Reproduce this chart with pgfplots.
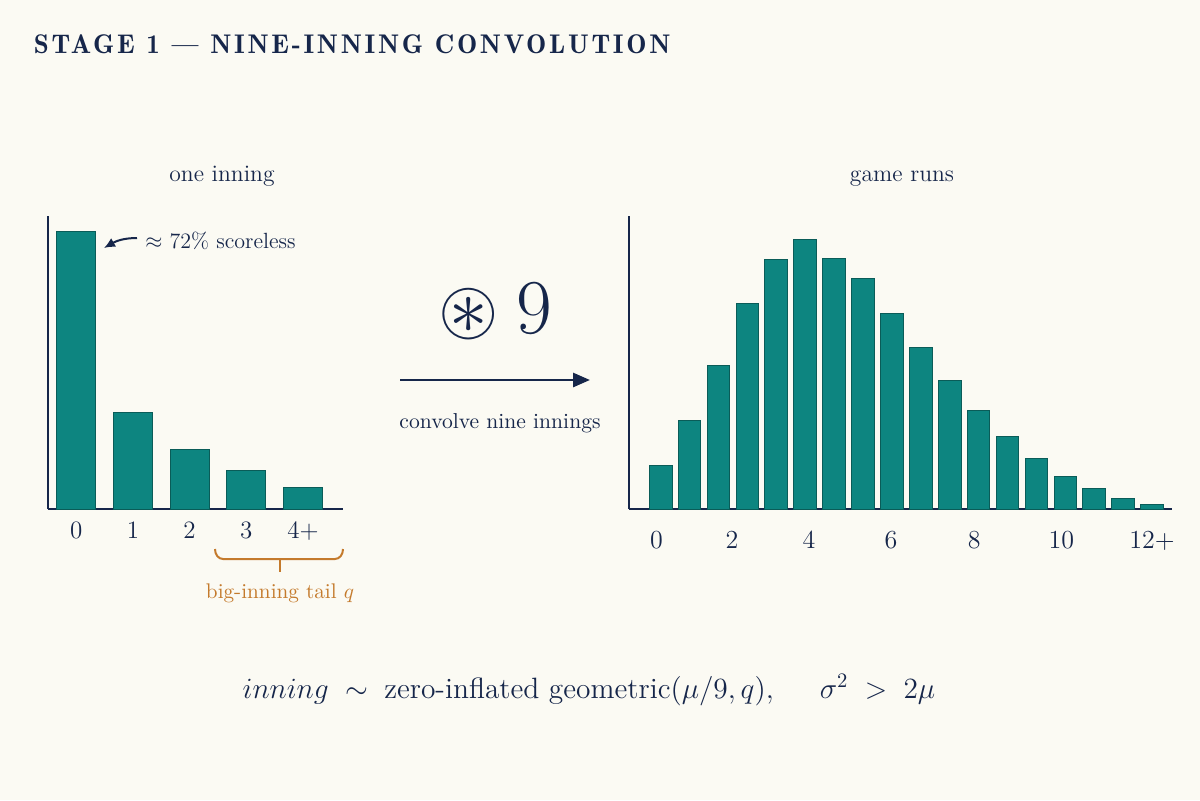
\documentclass[border=0pt]{standalone}
\usepackage{fix-cm}
\usepackage{amsmath,amssymb}
\usepackage{fontspec}
\usepackage{pgfplots}
\pgfplotsset{compat=1.18}
\usetikzlibrary{arrows.meta}
\newfontfamily\titlefont{lmromandemi10-regular}[Extension=.otf, LetterSpace=10]
\definecolor{bgc}{HTML}{FBFAF3}
\definecolor{navy}{HTML}{16264A}
\definecolor{teal1}{HTML}{0D8580}
\definecolor{tealedge}{HTML}{0A5C58}
\definecolor{orng}{HTML}{C47A2C}
\begin{document}
\begin{tikzpicture}
\begin{scope}[x=0.5pt,y=0.5pt]
\fill[bgc] (0,0) rectangle (1200,800);
% title
\node[anchor=base west, text=navy, inner sep=0,
  font=\titlefont\fontsize{13.5}{16}\selectfont]
  at (33.5,746) {STAGE 1 — NINE-INNING CONVOLUTION};
% panel titles
\node[anchor=base, text=navy, inner sep=0, font=\fontsize{11.8}{14}\selectfont] at (222,618) {one inning};
\node[anchor=base, text=navy, inner sep=0, font=\fontsize{11.8}{14}\selectfont] at (902,618) {game runs};
\end{scope}

% left chart
\begin{axis}[
  at={(24.15pt,145.5pt)}, anchor=south west,
  scale only axis, width=147.35pt, height=146.75pt,
  xmin=-0.492, xmax=4.705, ymin=0, ymax=293.5,
  axis x line=bottom, axis y line=left,
  axis line style={draw=navy, line width=1pt, -},
  ytick=\empty, xtick={0,1,2,3,4}, xticklabels={0,1,2,3,4+},
  major tick length=0pt,
  xticklabel style={font=\fontsize{12.5}{14}\selectfont, text=navy, yshift=-3pt},
  ybar, bar width=0.688,
  clip=false,
]
\addplot[fill=teal1, draw=tealedge, line width=0.5pt] coordinates {(0,278) (1,97) (2,60) (3,39) (4,22)};
\end{axis}

% right chart
\begin{axis}[
  at={(314.5pt,145.5pt)}, anchor=south west,
  scale only axis, width=271.5pt, height=146.75pt,
  xmin=-1.097, xmax=17.69, ymin=0, ymax=293.5,
  axis x line=bottom, axis y line=left,
  axis line style={draw=navy, line width=1pt, -},
  ytick=\empty, xtick={-0.15,2.47,5.13,7.97,10.85,13.86,17},
  xticklabels={0,2,4,6,8,10,12+},
  major tick length=0pt,
  xticklabel style={font=\fontsize{13}{15}\selectfont, text=navy, yshift=-7.6pt},
  ybar, bar width=0.785,
  clip=false,
]
\addplot[fill=teal1, draw=tealedge, line width=0.5pt] coordinates {
 (0,44) (1,89) (2,144) (3,206) (4,250) (5,270) (6,251) (7,231) (8,196)
 (9,162) (10,129) (11,99) (12,73) (13,51) (14,33) (15,20.5) (16,11) (17,4.6)};
\end{axis}

\begin{scope}[x=0.5pt,y=0.5pt]
% annotation
\draw[navy, line width=1pt, -{Latex[length=5.5pt,width=5pt]}] (137,562) to[out=180,in=30] (104,552);
\node[anchor=base west, text=navy, inner sep=0, font=\fontsize{11}{13}\selectfont] at (145,552) {$\approx$ 72\% scoreless};

% brace
\draw[orng, line width=1pt] (215,251) to[out=-90,in=180] (223,241) -- (335,241) to[out=0,in=-90] (343,251);
\draw[orng, line width=1pt] (280,241) -- (280,228);
\node[anchor=base, text=orng, inner sep=0, font=\fontsize{10.6}{12}\selectfont] at (280,202) {big-inning tail $q$};

% middle
\node[anchor=base, text=navy, inner sep=0, font=\fontsize{38.8}{42}\selectfont] at (495,467) {$\circledast$\hspace{9pt}9};
\draw[navy, line width=1.4pt, -{Triangle[length=8.5pt,width=7pt]}] (400,420) -- (590,420);
\node[anchor=base, text=navy, inner sep=0, font=\fontsize{10.8}{13}\selectfont] at (500,372) {convolve nine innings};

% formula
\node[anchor=base, text=navy, inner sep=0, font=\fontsize{14.7}{18}\selectfont] at (589,102)
  {$inning \;\sim\; \text{zero-inflated geometric}(\mu/9, q),\hspace{1.4em} \sigma^2 \;>\; 2\mu$};

\pgfresetboundingbox
\path[use as bounding box] (0,0) rectangle (1200,800);
\end{scope}
\end{tikzpicture}
\end{document}
